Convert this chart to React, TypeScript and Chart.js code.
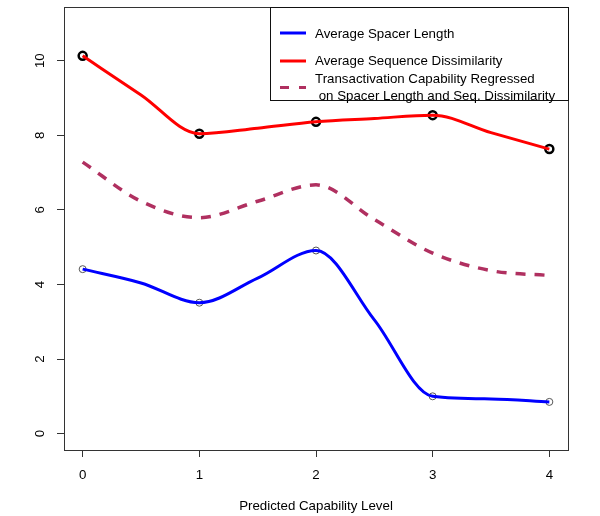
import React, { useEffect, useRef } from "react";
import { Chart, registerables } from "chart.js";

Chart.register(...registerables);

// ---- data ----
const LEVELS = [0, 1, 2, 3, 4];
const SPACER_LENGTH = [4.41, 3.51, 4.91, 1.0, 0.85];
const SEQ_DISSIMILARITY = [10.13, 8.04, 8.36, 8.54, 7.63];

// smooth curves at half steps
const CURVE_X = [0, 0.5, 1, 1.5, 2, 2.5, 3, 3.5, 4];
const SPACER_CURVE = [4.41, 4.04, 3.51, 4.17, 4.91, 3.05, 1.0, 0.93, 0.85];
const DISSIM_CURVE = [10.13, 9.08, 8.04, 8.19, 8.36, 8.45, 8.54, 8.07, 7.63];
const REGRESSED_CURVE = [7.28, 6.23, 5.79, 6.23, 6.67, 5.74, 4.84, 4.37, 4.24];

const X_TICKS = [0, 1, 2, 3, 4];
const Y_TICKS = [0, 2, 4, 6, 8, 10];
const X_TITLE = "Predicted Capability Level";
const LEGEND_TEXT = [
  "Average Spacer Length",
  "Average Sequence Dissimilarity",
  "Transactivation Capability Regressed",
  " on Spacer Length and Seq. Dissimilarity",
];

const BLUE = "#0000FF";
const RED = "#FF0000";
const MAROON = "#B03060";
const FONT_FAMILY = "'Liberation Sans', Arial, Helvetica, sans-serif";
const FONT_SIZE = 13.3;

const toXY = (xs: number[], ys: number[]) => xs.map((x, i) => ({ x, y: ys[i] }));

const frameAndLegend = {
  id: "frameAndLegend",
  afterDraw(chart: any) {
    const { ctx, chartArea: a } = chart;
    ctx.save();
    // plot frame
    ctx.strokeStyle = "#333";
    ctx.lineWidth = 1;
    ctx.strokeRect(a.left + 0.5, a.top + 0.5, a.right - a.left, a.bottom - a.top);

    // legend box
    const bw = 298;
    const bh = 93;
    const bx = a.right - bw;
    const by = a.top;
    ctx.fillStyle = "#fff";
    ctx.fillRect(bx, by, bw, bh);
    ctx.strokeStyle = "#111";
    ctx.strokeRect(bx + 0.5, by + 0.5, bw, bh);

    const ds = chart.data.datasets;
    const samples = [
      { color: ds[1].borderColor, dash: [] as number[], y: by + 26 },
      { color: ds[2].borderColor, dash: [] as number[], y: by + 54 },
      { color: ds[0].borderColor, dash: [9, 10] as number[], y: by + 80.5 },
    ];
    ctx.lineWidth = 3;
    samples.forEach((s) => {
      ctx.strokeStyle = s.color;
      ctx.setLineDash(s.dash);
      ctx.beginPath();
      ctx.moveTo(bx + 10, s.y);
      ctx.lineTo(bx + 36, s.y);
      ctx.stroke();
    });
    ctx.setLineDash([]);

    ctx.fillStyle = "#000";
    ctx.font = `${FONT_SIZE}px ${FONT_FAMILY}`;
    ctx.textBaseline = "middle";
    ctx.textAlign = "left";
    const ty = [by + 27, by + 54, by + 72, by + 89];
    LEGEND_TEXT.forEach((t, i) => {
      ctx.fillText(t, bx + 45, ty[i]);
    });
    ctx.restore();
  },
};

export default function App() {
  const canvasRef = useRef<HTMLCanvasElement | null>(null);

  useEffect(() => {
    const canvas = canvasRef.current;
    if (!canvas) return;
    const font = { family: FONT_FAMILY, size: FONT_SIZE };
    const chart = new Chart(canvas, {
      type: "line",
      data: {
        datasets: [
          {
            label: LEGEND_TEXT[2] + LEGEND_TEXT[3],
            data: toXY(CURVE_X, REGRESSED_CURVE),
            borderColor: MAROON,
            borderWidth: 3.5,
            borderDash: [10, 9],
            pointRadius: 0,
            cubicInterpolationMode: "monotone",
            fill: false,
          },
          {
            label: LEGEND_TEXT[0],
            data: toXY(CURVE_X, SPACER_CURVE),
            borderColor: BLUE,
            borderWidth: 3,
            pointRadius: 0,
            cubicInterpolationMode: "monotone",
            fill: false,
          },
          {
            label: LEGEND_TEXT[1],
            data: toXY(CURVE_X, DISSIM_CURVE),
            borderColor: RED,
            borderWidth: 3,
            pointRadius: 0,
            cubicInterpolationMode: "monotone",
            fill: false,
          },
          {
            label: "spacer points",
            data: toXY(LEVELS, SPACER_LENGTH),
            showLine: false,
            pointRadius: 3.5,
            pointBorderWidth: 1,
            pointBorderColor: "#555",
            pointBackgroundColor: "rgba(0,0,0,0)",
          },
          {
            label: "dissimilarity points",
            data: toXY(LEVELS, SEQ_DISSIMILARITY),
            showLine: false,
            pointRadius: 4,
            pointBorderWidth: 2.5,
            pointBorderColor: "#000",
            pointBackgroundColor: "rgba(0,0,0,0)",
          },
        ],
      },
      options: {
        animation: false,
        responsive: false,
        events: [],
        layout: { padding: { top: 7, right: 32, left: 0, bottom: 0 } },
        plugins: { legend: { display: false }, tooltip: { enabled: false } },
        scales: {
          x: {
            type: "linear",
            min: -0.16,
            max: 4.16,
            afterBuildTicks: (s: any) => {
              s.ticks = X_TICKS.map((v) => ({ value: v }));
            },
            afterFit: (s: any) => {
              s.height = 66;
              s.paddingLeft = 0;
              s.paddingRight = 0;
            },
            ticks: { font, color: "#000", padding: 10, maxRotation: 0, minRotation: 0 },
            grid: { display: true, drawOnChartArea: false, drawTicks: true, tickLength: 7, color: "#333", lineWidth: 1 },
            border: { display: false },
            title: { display: true, text: X_TITLE, font, color: "#000", padding: { top: 4, bottom: 2 } },
          },
          y: {
            type: "linear",
            min: -0.44,
            max: 11.44,
            afterBuildTicks: (s: any) => {
              s.ticks = Y_TICKS.map((v) => ({ value: v }));
            },
            afterFit: (s: any) => {
              s.width = 64;
              s.paddingTop = 0;
              s.paddingBottom = 0;
            },
            ticks: { font, color: "#000", padding: 9, minRotation: 90, maxRotation: 90, crossAlign: "center" },
            grid: { display: true, drawOnChartArea: false, drawTicks: true, tickLength: 7, color: "#333", lineWidth: 1 },
            border: { display: false },
          },
        },
      },
      plugins: [frameAndLegend],
    });
    return () => chart.destroy();
  }, []);

  return (
    <canvas
      ref={canvasRef}
      width={600}
      height={516}
      style={{ position: "absolute", left: 0, top: 0, display: "block", width: 600, height: 516 }}
    />
  );
}
